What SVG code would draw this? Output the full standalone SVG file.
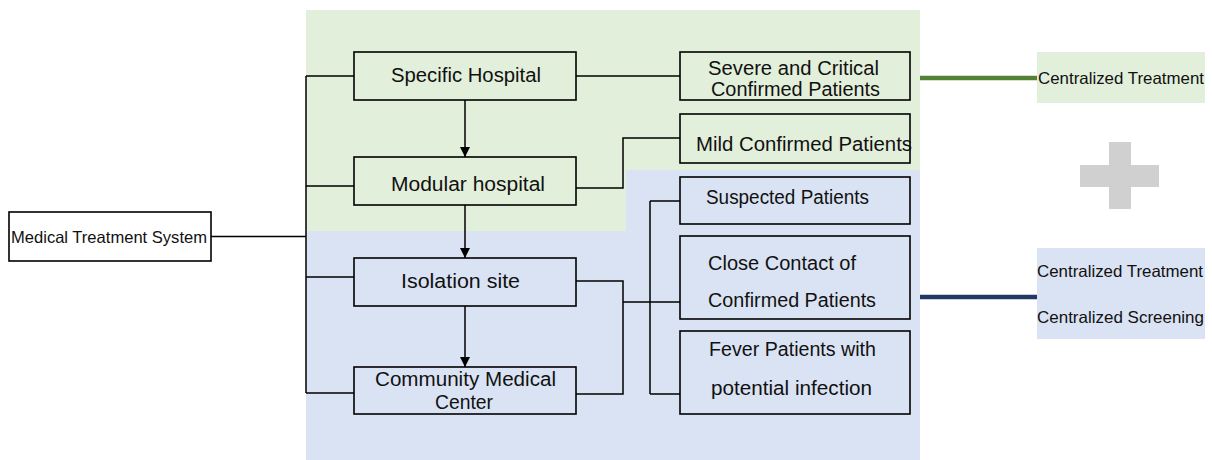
<svg xmlns="http://www.w3.org/2000/svg" width="1212" height="460" viewBox="0 0 1212 460">
<style>
.box{fill:none;stroke:#000;stroke-width:1.6}
.ln{fill:none;stroke:#000;stroke-width:1.5}
text{font-family:"Liberation Sans",Arial,sans-serif;font-size:20px;fill:#111}
.sm{font-size:16.5px}
</style>
<defs>
<marker id="ah" markerUnits="userSpaceOnUse" markerWidth="12" markerHeight="12" viewBox="0 0 12 12" refX="10" refY="6" orient="auto">
<path d="M0,1 L10,6 L0,11 Z" fill="#000"/>
</marker>
</defs>
<rect width="1212" height="460" fill="#fff"/>
<g id="bg">
<path d="M306,10 H920 V170 H626 V231 H306 Z" fill="#e2efda"/>
<path d="M306,231 H626 V170 H920 V460 H306 Z" fill="#dae3f3"/>
</g>
<g id="connectors">
<path class="ln" d="M211,236.5 H306 M306,76 V393 M306,76 H354 M306,186 H354 M306,277 H354 M306,393 H354"/>
<path class="ln" d="M576,76 H680"/>
<path class="ln" d="M576,188 H623 V138 H680"/>
<path class="ln" d="M576,281 H623 V394 H576 M623,302 H680 M650,201 V394 M650,201 H680 M650,394 H680"/>
<path class="ln" d="M465,100 V157" marker-end="url(#ah)"/>
<path class="ln" d="M465,205 V258" marker-end="url(#ah)"/>
<path class="ln" d="M465,306 V367" marker-end="url(#ah)"/>
<path d="M920,78 H1037" stroke="#548235" stroke-width="4.5"/>
<path d="M920,297 H1037" stroke="#203864" stroke-width="4.5"/>
</g>
<g id="mts">
<rect x="9" y="212" width="202" height="49" fill="#fff" class="box"/>
<text class="sm" x="11" y="243" textLength="196" lengthAdjust="spacingAndGlyphs">Medical Treatment System</text>
</g>
<g id="specific">
<rect class="box" x="354" y="52" width="222" height="48"/>
<text x="391" y="82" textLength="150" lengthAdjust="spacingAndGlyphs">Specific Hospital</text>
</g>
<g id="modular">
<rect class="box" x="354" y="157" width="222" height="48"/>
<text x="391" y="191" textLength="154" lengthAdjust="spacingAndGlyphs">Modular hospital</text>
</g>
<g id="isolation">
<rect class="box" x="354" y="258" width="222" height="48"/>
<text x="401" y="288" textLength="119" lengthAdjust="spacingAndGlyphs">Isolation site</text>
</g>
<g id="community">
<rect class="box" x="354" y="367" width="222" height="47"/>
<text x="375" y="386" textLength="181" lengthAdjust="spacingAndGlyphs">Community Medical</text>
<text x="435" y="409" textLength="58" lengthAdjust="spacingAndGlyphs">Center</text>
</g>
<g id="severe">
<rect class="box" x="680" y="52" width="230" height="48"/>
<text x="708" y="75" textLength="171" lengthAdjust="spacingAndGlyphs">Severe and Critical</text>
<text x="711" y="96" textLength="169" lengthAdjust="spacingAndGlyphs">Confirmed Patients</text>
</g>
<g id="mild">
<rect class="box" x="680" y="114" width="230" height="49"/>
<text x="696" y="151" textLength="216" lengthAdjust="spacingAndGlyphs">Mild Confirmed Patients</text>
</g>
<g id="suspected">
<rect class="box" x="680" y="177" width="230" height="47"/>
<text x="706" y="204" textLength="163" lengthAdjust="spacingAndGlyphs">Suspected Patients</text>
</g>
<g id="close">
<rect class="box" x="680" y="236" width="230" height="83"/>
<text x="708" y="270" textLength="148" lengthAdjust="spacingAndGlyphs">Close Contact of</text>
<text x="708" y="307" textLength="168" lengthAdjust="spacingAndGlyphs">Confirmed Patients</text>
</g>
<g id="fever">
<rect class="box" x="680" y="331" width="230" height="83"/>
<text x="709" y="356" textLength="167" lengthAdjust="spacingAndGlyphs">Fever Patients with</text>
<text x="711" y="395" textLength="161" lengthAdjust="spacingAndGlyphs">potential infection</text>
</g>
<g id="central1">
<rect x="1037" y="52" width="168" height="51" fill="#e2efda"/>
<text class="sm" x="1038" y="84" textLength="166" lengthAdjust="spacingAndGlyphs">Centralized Treatment</text>
</g>
<g id="plus">
<rect x="1080" y="165" width="79" height="22" fill="#d0d0d0"/>
<rect x="1109" y="142" width="22" height="67" fill="#d0d0d0"/>
</g>
<g id="central2">
<rect x="1037" y="248" width="168" height="91" fill="#dae3f3"/>
<text class="sm" x="1037" y="277" textLength="166" lengthAdjust="spacingAndGlyphs">Centralized Treatment</text>
<text class="sm" x="1037" y="323" textLength="167" lengthAdjust="spacingAndGlyphs">Centralized Screening</text>
</g>
</svg>
